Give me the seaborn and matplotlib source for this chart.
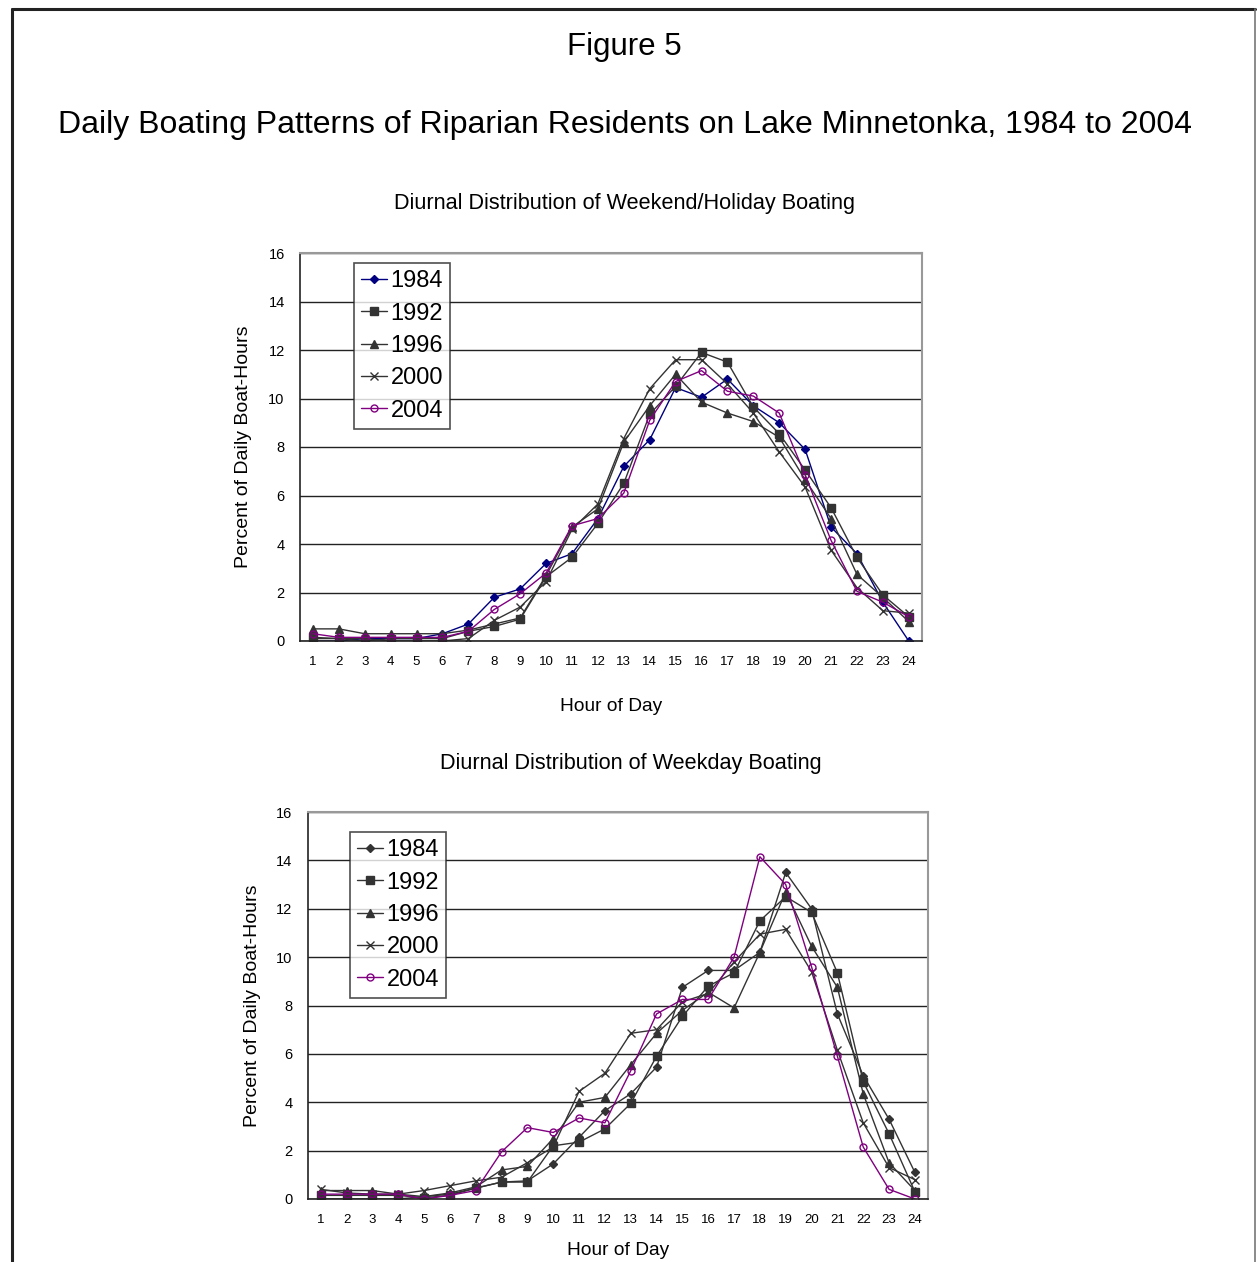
import numpy as np
import pandas as pd
import matplotlib
matplotlib.use("Agg")
import matplotlib.pyplot as plt
from matplotlib.lines import Line2D
import seaborn as sb

sb.set_style("white")
plt.rcParams['font.family'] = ['Liberation Sans', 'DejaVu Sans']
plt.rcParams['text.color'] = 'black'
plt.rcParams['axes.labelcolor'] = 'black'
plt.rcParams['xtick.color'] = 'black'
plt.rcParams['ytick.color'] = 'black'

hours = list(range(1, 25))
years = ["1984", "1992", "1996", "2000", "2004"]

# weekend / holiday boating (percent of daily boat-hours)
wkend_1984 = [0, 0, 0.1, 0.1, 0.1, 0.3, 0.7, 1.8, 2.15, 3.2, 3.6, 5.05,
              7.2, 8.3, 10.45, 10.05, 10.8, 9.7, 9.0, 7.9, 4.7, 3.6, 1.6, 0]
wkend_1992 = [0.15, 0.1, 0, 0.1, 0.1, 0.1, 0.4, 0.6, 0.9, 2.65, 3.45, 4.85,
              6.5, 9.35, 10.5, 11.9, 11.5, 9.65, 8.55, 7.05, 5.5, 3.45, 1.9, 1.0]
wkend_1996 = [0.5, 0.5, 0.3, 0.3, 0.3, 0.3, 0.45, 0.7, 0.95, 2.7, 4.7, 5.45,
              8.2, 9.7, 11.0, 9.85, 9.4, 9.05, 8.4, 6.65, 5.05, 2.75, 1.8, 0.8]
wkend_2000 = [0.1, 0.1, 0.1, 0, 0, 0, 0.1, 0.85, 1.4, 2.45, 4.6, 5.65,
              8.35, 10.4, 11.6, 11.6, 10.6, 9.4, 7.8, 6.35, 3.75, 2.2, 1.25, 1.15]
wkend_2004 = [0.3, 0.15, 0.15, 0.15, 0.15, 0.15, 0.4, 1.3, 1.95, 2.8, 4.75, 5.05,
              6.1, 9.1, 10.7, 11.15, 10.3, 10.1, 9.4, 6.85, 4.15, 2.05, 1.6, 1.0]

# weekday boating
wkday_1984 = [0, 0, 0, 0, 0.1, 0.2, 0.45, 0.7, 0.75, 1.45, 2.55, 3.65,
              4.35, 5.45, 8.75, 9.45, 9.45, 10.2, 13.5, 12.0, 7.65, 5.1, 3.3, 1.1]
wkday_1992 = [0.15, 0.15, 0.15, 0.15, 0.05, 0.15, 0.45, 0.7, 0.7, 2.2, 2.35, 2.9,
              3.95, 5.9, 7.55, 8.8, 9.35, 11.5, 12.5, 11.85, 9.35, 4.85, 2.7, 0.3]
wkday_1996 = [0.35, 0.35, 0.35, 0.2, 0.1, 0.25, 0.5, 1.2, 1.35, 2.5, 4.0, 4.2,
              5.55, 6.85, 7.8, 8.55, 7.9, 10.2, 12.7, 10.45, 8.75, 4.35, 1.5, 0.35]
wkday_2000 = [0.4, 0.25, 0.2, 0.2, 0.35, 0.55, 0.75, 0.9, 1.5, 2.15, 4.45, 5.2,
              6.85, 7.0, 8.15, 8.5, 9.8, 10.95, 11.15, 9.4, 6.15, 3.15, 1.3, 0.8]
wkday_2004 = [0.2, 0.2, 0.2, 0.2, 0, 0.15, 0.35, 1.95, 2.95, 2.75, 3.35, 3.15,
              5.3, 7.65, 8.25, 8.25, 10.0, 14.15, 13.0, 9.6, 5.9, 2.15, 0.4, 0.0]

weekend = [wkend_1984, wkend_1992, wkend_1996, wkend_2000, wkend_2004]
weekday = [wkday_1984, wkday_1992, wkday_1996, wkday_2000, wkday_2004]

markers = ["D", "s", "^", "x", "o"]
msizes = [4, 5.5, 5.5, 5.5, 5]
colors_top = ["#000080", "#333333", "#333333", "#333333", "#800080"]
colors_bot = ["#333333", "#333333", "#333333", "#333333", "#800080"]

fig = plt.figure(figsize=(12.57, 12.62), dpi=100)

# outer frame of the page
fig.add_artist(Line2D([12/1257, 12/1257], [0, 1 - 9/1262], color="#222222", lw=2.2))
fig.add_artist(Line2D([12/1257, 1255/1257], [1 - 9/1262, 1 - 9/1262], color="#222222", lw=2.2))
fig.add_artist(Line2D([1255/1257, 1255/1257], [0, 1 - 9/1262], color="#777777", lw=1.2))

fig.text(0.497, 1 - 47/1262, "Figure 5", ha="center", va="center", fontsize=22.5)
fig.text(0.497, 1 - 125/1262,
         "Daily Boating Patterns of Riparian Residents on Lake Minnetonka, 1984 to 2004",
         ha="center", va="center", fontsize=23)


def draw(ax, series, colors, title_xy, title, leg_xy, xlab_y, ylab_x):
    for i, yr in enumerate(years):
        df = pd.DataFrame({"hour": hours, "pct": series[i]})
        mfc = "none" if markers[i] == "o" else colors[i]
        sb.lineplot(x="hour", y="pct", data=df, ax=ax, color=colors[i], lw=1.0,
                    marker=markers[i], ms=msizes[i], mfc=mfc, mec=colors[i],
                    mew=1.0, label=yr, sort=False)
    ax.set_xlim(0.5, 24.5)
    ax.set_ylim(0, 16)
    ax.set_yticks(np.arange(0, 17, 2))
    ax.set_xticks(hours)
    ax.set_xticks(np.arange(0.5, 25, 1), minor=True)
    ax.tick_params(axis="x", which="major", length=0, pad=11, labelsize=9.5)
    ax.tick_params(axis="x", which="minor", length=5, width=1, color="black", direction="out")
    ax.tick_params(axis="y", length=5, width=1, color="black", direction="out", pad=6, labelsize=10.5)
    ax.yaxis.grid(True, color="#222222", lw=1)
    ax.xaxis.grid(False)
    ax.set_axisbelow(True)
    for s in ["left", "bottom"]:
        ax.spines[s].set_color("#222222")
        ax.spines[s].set_linewidth(1.2)
    for s in ["top", "right"]:
        ax.spines[s].set_color("#999999")
        ax.spines[s].set_linewidth(1.5)
    ax.set_xlabel("Hour of Day", fontsize=13.8)
    ax.set_ylabel("Percent of Daily Boat-Hours", fontsize=14)
    ax.xaxis.set_label_coords(0.5, xlab_y)
    ax.yaxis.set_label_coords(ylab_x, 0.5)
    leg = ax.legend(loc="upper left", bbox_to_anchor=leg_xy, borderaxespad=0,
                    fontsize=17, frameon=True, fancybox=False, handlelength=1.1,
                    handletextpad=0.15, labelspacing=0.44, borderpad=0.3)
    leg.get_frame().set_edgecolor("#222222")
    leg.get_frame().set_linewidth(1.2)
    fig.text(title_xy[0], title_xy[1], title, ha="center", va="center", fontsize=15.6)


ax1 = fig.add_axes([300/1257, (1262-641)/1262, 621.7/1257, 388/1262])
draw(ax1, weekend, colors_top, (624/1257, 1 - 204/1262),
     "Diurnal Distribution of Weekend/Holiday Boating",
     (0.087, 0.974), -0.147, -0.0776)

ax2 = fig.add_axes([307.8/1257, (1262-1199)/1262, 620/1257, 387/1262])
draw(ax2, weekday, colors_bot, (631/1257, 1 - 764/1262),
     "Diurnal Distribution of Weekday Boating",
     (0.068, 0.948), -0.111, -0.076)

fig.savefig("out.png", dpi=100)
